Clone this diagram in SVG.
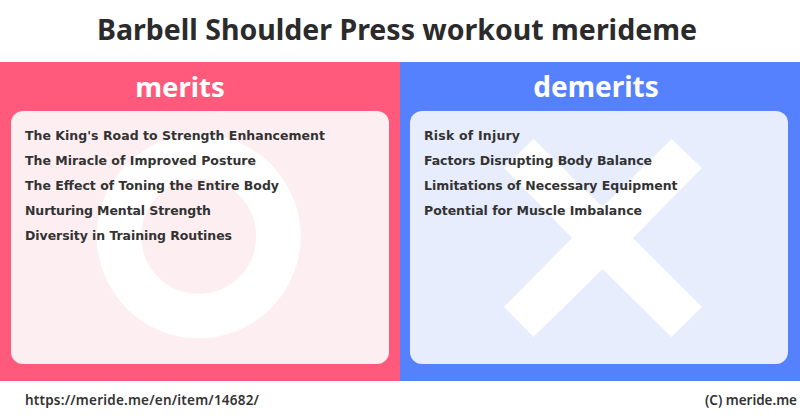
<svg xmlns="http://www.w3.org/2000/svg" width="800" height="418" viewBox="0 0 800 418">
<style>
.h{font-family:"Noto Sans","Open Sans","Liberation Sans",sans-serif;font-weight:700;text-anchor:middle}
.t{font-family:"DejaVu Sans",Verdana,sans-serif;font-weight:700;font-size:12.5px;fill:#333}
.f{font-family:"Noto Sans","Open Sans",sans-serif;font-weight:600;font-size:13.5px;fill:#333}
</style>
<rect width="800" height="418" fill="#fff"/>
<text id="title" class="h" x="397" y="40" font-size="28.5" fill="#2b2b2b">Barbell Shoulder Press workout merideme</text>
<g id="merits">
<rect x="0" y="62" width="400" height="319" fill="#ff5a7b"/>
<text class="h" x="180" y="97" font-size="27.5" fill="#fff">merits</text>
<rect x="11" y="111" width="378" height="253" rx="12" fill="#fdeef1"/>
<circle cx="198.7" cy="236.3" r="79.75" fill="none" stroke="#fff" stroke-width="44.5"/>
<text class="t" x="25" y="140" textLength="300">The King's Road to Strength Enhancement</text>
<text class="t" x="25" y="165" textLength="231">The Miracle of Improved Posture</text>
<text class="t" x="25" y="190" textLength="254">The Effect of Toning the Entire Body</text>
<text class="t" x="25" y="215" textLength="186">Nurturing Mental Strength</text>
<text class="t" x="25" y="240" textLength="207">Diversity in Training Routines</text>
</g>
<g id="demerits">
<rect x="400" y="62" width="400" height="319" fill="#5581ff"/>
<text class="h" x="596" y="97" font-size="28" fill="#fff">demerits</text>
<rect x="410" y="111" width="378" height="253" rx="12" fill="#e7edfd"/>
<polygon fill="#fff" points="533.5,139 602.5,207 671.5,139 702,168 633,238 702,307 671.5,337 602.5,269 533.5,337 504,307 572,238 504,168"/>
<text class="t" x="424" y="140" textLength="96">Risk of Injury</text>
<text class="t" x="424" y="165" textLength="228">Factors Disrupting Body Balance</text>
<text class="t" x="424" y="190" textLength="253.5">Limitations of Necessary Equipment</text>
<text class="t" x="424" y="215" textLength="218">Potential for Muscle Imbalance</text>
</g>
<g id="footer">
<text class="f" x="25" y="405" textLength="234">https://meride.me/en/item/14682/</text>
<text class="f" x="705" y="405" textLength="92">(C) meride.me</text>
</g>
<g id="connectors"/>
</svg>
